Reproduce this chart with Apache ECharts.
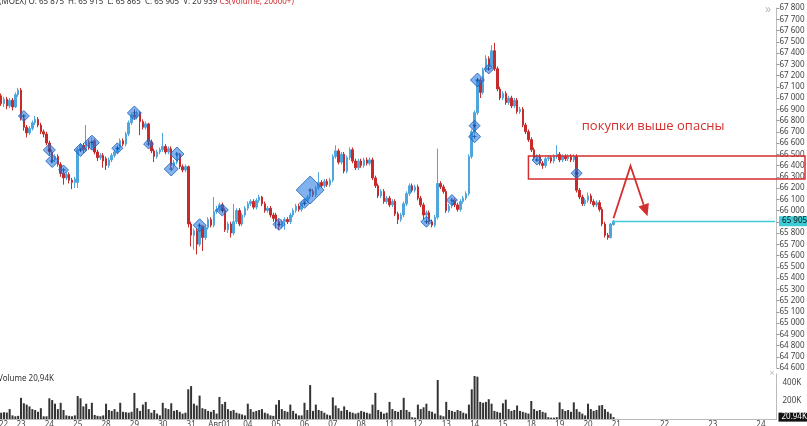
<!DOCTYPE html>
<html><head><meta charset="utf-8">
<script src="https://cdn.jsdelivr.net/npm/echarts/dist/echarts.min.js"></script>
<style>html,body{margin:0;padding:0;background:#fff;overflow:hidden}#c{width:807px;height:426px}</style>
</head><body><div id="c"></div>
<script>
// ---------- DATA ----------
const dayLabels = ['Июля22','23','24','25','28','29','30','31','Авг01','04','05','06','07','08','11','12','13','14','15','18','19','20'];
const futureDayLabels = ['21','22','23','24'];
const candlesPerDay = 10;
const futureSlotsPerDay = 17;
const futureSlots = 57;

// [open, close, low, high] hourly candles
const candles = [
// 22
[67040,67000,66970,67070],[67000,67030,66980,67060],[67030,66990,66960,67050],[67020,66950,66930,67040],[66950,66990,66920,67010],
[66990,66930,66900,67010],[66930,66980,66910,67000],[66980,66920,66890,67000],[66920,67030,66910,67050],[67030,67070,67010,67090],
// 23
[67070,66820,66800,67090],[66820,66740,66710,66850],[66740,66690,66650,66760],[66690,66730,66670,66750],[66730,66780,66710,66800],
[66780,66810,66760,66840],[66810,66760,66740,66830],[66760,66700,66680,66780],[66700,66680,66650,66720],[66680,66600,66580,66700],
// 24
[66600,66520,66490,66620],[66520,66450,66420,66540],[66450,66480,66430,66500],[66480,66410,66390,66500],[66410,66330,66300,66430],
[66330,66290,66230,66350],[66290,66320,66270,66340],[66320,66270,66240,66340],[66270,66250,66190,66290],[66250,66280,66200,66300],
// 25
[66250,66540,66200,66560],[66540,66580,66520,66600],[66580,66540,66510,66600],[66540,66610,66520,66760],[66610,66560,66540,66630],
[66560,66620,66540,66650],[66620,66520,66500,66640],[66520,66470,66440,66540],[66470,66490,66450,66510],[66490,66440,66380,66510],
// 28
[66460,66400,66360,66480],[66400,66450,66380,66470],[66450,66490,66430,66510],[66490,66520,66470,66540],[66520,66560,66500,66580],
[66560,66620,66540,66640],[66620,66590,66570,66640],[66590,66680,66570,66700],[66680,66780,66660,66800],[66780,66850,66760,66870],
// 29
[66850,66830,66810,66900],[66830,66870,66810,66890],[66870,66790,66670,66880],[66790,66740,66720,66810],[66740,66770,66720,66790],
[66770,66610,66590,66780],[66610,66530,66510,66630],[66530,66480,66430,66550],[66480,66520,66460,66540],[66520,66540,66500,66560],
// 30
[66540,66570,66520,66690],[66570,66520,66500,66590],[66520,66550,66500,66570],[66550,66400,66380,66570],[66400,66430,66380,66450],
[66430,66500,66410,66520],[66500,66390,66370,66510],[66390,66360,66340,66410],[66360,66390,66340,66410],[66390,65880,65850,66400],
// 31
[65880,65780,65680,65900],[65780,65820,65650,65840],[65820,65700,65610,65840],[65700,65860,65680,65880],[65860,65760,65640,65870],
[65760,65850,65740,65870],[65850,65920,65830,65940],[65920,65870,65850,65940],[65870,65990,65850,66120],[65990,66010,65970,66040],
// Авг01
[66010,66050,65990,66070],[66050,66000,65980,66070],[66000,65830,65810,66020],[65830,65880,65800,65900],[65880,65800,65760,65900],
[65800,65900,65780,66060],[65900,66000,65880,66020],[66000,65880,65860,66020],[65880,65960,65860,65980],[65960,66020,65940,66040],
// 04
[66020,66060,66000,66080],[66060,66080,66040,66100],[66080,66030,66010,66100],[66030,66090,66010,66110],[66090,66120,66070,66140],
[66120,66060,66040,66130],[66060,66000,65980,66080],[66000,66020,65980,66040],[66020,65960,65940,66040],[65960,65930,65900,65980],
// 05
[65960,65900,65840,65980],[65900,65860,65830,65920],[65860,65900,65840,65920],[65900,65920,65830,65940],[65920,65900,65880,65940],
[65900,65960,65880,65980],[65960,66000,65940,66020],[66000,66040,65980,66060],[66040,66010,65990,66060],[66010,66060,65990,66080],
// 06
[66060,66090,66040,66110],[66090,66120,66070,66140],[66120,66170,66100,66190],[66170,66140,66120,66190],[66140,66200,66120,66220],
[66200,66250,66180,66340],[66250,66220,66200,66270],[66220,66260,66200,66280],[66260,66230,66210,66280],[66230,66270,66210,66290],
// 07
[66270,66480,66250,66500],[66480,66530,66460,66580],[66530,66430,66410,66550],[66430,66500,66410,66520],[66500,66350,66330,66520],
[66350,66470,66330,66490],[66470,66540,66450,66560],[66540,66440,66420,66560],[66440,66380,66360,66460],[66380,66440,66360,66460],
// 08
[66440,66400,66380,66460],[66400,66450,66380,66470],[66450,66420,66400,66470],[66420,66450,66400,66470],[66450,66290,66270,66470],
[66290,66220,66200,66310],[66220,66130,66110,66240],[66130,66170,66110,66190],[66170,66080,66060,66190],[66080,66110,66060,66130],
// 11
[66110,66050,66030,66130],[66050,66080,66030,66100],[66080,65970,65950,66100],[65970,65920,65880,65990],[65920,65960,65900,65980],
[65960,66060,65940,66080],[66060,66150,66040,66170],[66150,66220,66130,66240],[66220,66180,66160,66240],[66180,66210,66160,66230],
// 12
[66210,66110,66090,66230],[66110,66050,66030,66130],[66050,65960,65920,66070],[65960,65980,65880,66000],[65980,65900,65880,66000],
[65900,65870,65850,65920],[65870,65940,65850,65960],[65940,66240,65920,66550],[66240,66210,66190,66260],[66210,66170,66150,66230],
// 13
[66170,66000,65980,66190],[66000,66040,65980,66060],[66040,66090,66020,66110],[66090,66050,66030,66110],[66050,66010,65990,66070],
[66010,66080,65990,66100],[66080,66110,66060,66130],[66110,66150,66090,66170],[66150,66480,66130,66500],[66480,66700,66460,66720],
// 14
[66700,66870,66680,66890],[66870,67160,66850,67180],[67160,67050,67000,67180],[67050,67250,67030,67270],[67250,67350,67230,67380],
[67350,67280,67250,67370],[67280,67420,67260,67470],[67420,67260,67240,67490],[67260,67080,67060,67280],[67080,67000,66980,67100],
// 15
[67000,67040,66980,67060],[67040,66960,66940,67060],[66960,67000,66940,67020],[67000,66930,66910,67020],[66930,66980,66910,67000],
[66980,66880,66860,67000],[66880,66900,66860,66920],[66900,66760,66740,66920],[66760,66700,66680,66780],[66700,66630,66610,66720],
// 18
[66630,66540,66520,66650],[66540,66470,66450,66560],[66470,66480,66440,66500],[66480,66420,66400,66500],[66420,66400,66370,66440],
[66400,66460,66380,66480],[66460,66470,66440,66490],[66470,66440,66420,66490],[66440,66480,66420,66500],[66480,66500,66460,66580],
// 19
[66500,66450,66430,66520],[66450,66480,66430,66500],[66480,66460,66440,66500],[66460,66480,66440,66500],[66480,66450,66430,66500],
[66450,66480,66430,66500],[66480,66180,66160,66500],[66180,66120,66100,66200],[66120,66060,66040,66140],[66060,66090,66040,66110],
// 20
[66090,66130,66070,66160],[66130,66080,66060,66150],[66080,66050,66030,66100],[66050,66070,66030,66090],[66070,66010,65990,66090],
[66010,65880,65860,66030],[65880,65780,65760,65900],[65780,65760,65740,65800],[65760,65880,65750,65890],[65875,65905,65865,65915]
];

// volume, thousands
const volumes = [
60,70,55,70,75,72,110,40,30,35,
235,175,160,140,110,100,80,120,30,30,
230,210,170,110,180,100,40,35,30,40,
255,230,140,170,110,180,45,35,30,40,
170,100,90,110,80,180,80,75,70,80,
290,120,90,160,190,110,70,100,60,40,
180,120,110,175,90,100,80,60,70,330,
366,170,150,260,120,110,90,80,100,60,
245,165,190,110,90,100,70,60,50,40,
170,110,80,90,100,110,70,60,40,35,
160,210,110,90,80,160,90,60,40,40,
180,100,377,90,160,100,90,70,50,40,
240,150,120,90,140,100,80,70,60,70,
90,80,70,60,160,290,100,80,60,70,
190,110,90,80,100,235,100,80,20,15,
160,110,130,170,90,80,60,433,40,30,
190,100,90,80,100,90,70,60,160,330,
478,470,190,180,190,220,170,90,80,70,
175,215,110,90,100,150,90,80,70,60,
200,110,90,100,80,70,20,15,15,20,
185,110,90,100,80,185,110,80,60,40,
170,110,90,100,150,155,110,80,60,20.94
];
const lastVolumeExact = 20939;

// volume clusters: [candle index, price, cluster volume (K)]
const clusters = [
[11,66840,40],[20,66538,47],[21,66440,53],[25,66360,33],[31,66538,53],[35,66603,67],[44,66553,40],
[50,66867,60],[55,66591,33],[63,66369,60],[65,66502,60],[73,65869,53],[81,66004,47],[101,65877,47],
[110,66064,33],[112,66182,153],[153,65900,40],[162,66093,40],[170,66754,40],[170,66656,47],
[171,67160,60],[175,67258,33],[192,66449,33],[206,66331,40]
];

// annotations (data space)
const zoneTop = 66485, zoneBottom = 66280, zoneStart = 189;
const arrowPath = [[219,65931],[225,66396],[231,65950]];
const noteText = 'покупки выше опасны';
const notePos = [233,66751];

const priceMin = 64600, priceMax = 67800, priceStep = 100;
const volMax = 500, volStep = 200;

// ---------- BUILD ----------
const cats = [], labelMap = {};
dayLabels.forEach((d, di) => {
  for (let k = 0; k < candlesPerDay; k++) { const id = 'c' + cats.length; cats.push(id); if (k === 0) labelMap[id] = d; }
});
const dataCount = cats.length;
for (let k = 0; k < futureSlots; k++) { const id = 'c' + cats.length; cats.push(id); if (k % futureSlotsPerDay === 0) labelMap[id] = futureDayLabels[k / futureSlotsPerDay]; }
const fmtNum = v => String(v).replace(/\B(?=(\d{3})+(?!\d))/g, ' ');
const last = candles[candles.length - 1];

const UP = '#4ea6dc', DOWN = '#c62a2a', RED = '#d32f2f', CYAN = '#3fcbd5';
const gridL = -8.77, gridR = 30.5;

const chart = echarts.init(document.getElementById('c'), null, {renderer: 'canvas'});
chart.setOption({
  animation: false,
  backgroundColor: '#fff',
  textStyle: {fontFamily: 'Noto Sans'},
  title: [
    {left: -1, top: -2, padding: 0, textStyle: {fontSize: 8, fontWeight: 'normal', color: '#333', rich: {
        a: {fontSize: 8, color: '#333'}, b: {fontSize: 8, color: '#d32f2f'}}},
     text: '{a|(MOEX) O: ' + fmtNum(last[0]) + '  H: ' + fmtNum(last[3]) + '  L: ' + fmtNum(last[2]) + '  C: ' + fmtNum(last[1]) + '  V: ' + fmtNum(lastVolumeExact) + ' }{b|CS(Volume, 20000+)}'},
    {left: -2, top: 375, padding: 0, textStyle: {fontSize: 8, fontWeight: 'normal', color: '#333'},
     text: 'Volume ' + String(volumes[volumes.length - 1]).replace('.', ',') + 'K'}
  ],
  grid: [
    {left: gridL, right: gridR, top: 8, height: 360, outerBoundsMode: 'none'},
    {left: gridL, right: gridR, top: 374, height: 45, outerBoundsMode: 'none'}
  ],
  xAxis: [
    {type: 'category', gridIndex: 0, data: cats, boundaryGap: true, axisLine: {show: false}, axisTick: {show: false}, axisLabel: {show: false}, splitLine: {show: false}},
    {type: 'category', gridIndex: 1, data: cats, boundaryGap: true,
     axisLine: {show: true, lineStyle: {color: '#bbb'}}, axisTick: {show: false},
     axisLabel: {show: true, fontSize: 8, color: '#444', margin: 2,
       interval: (i, v) => labelMap[v] !== undefined, formatter: v => labelMap[v] || ''},
     splitLine: {show: false}}
  ],
  yAxis: [
    {type: 'value', gridIndex: 0, position: 'right', min: priceMin, max: priceMax, interval: priceStep,
     axisLine: {show: true, lineStyle: {color: '#bbb'}}, axisTick: {show: true, length: 3, lineStyle: {color: '#999'}},
     axisLabel: {fontSize: 8, color: '#444', margin: 3, formatter: v => fmtNum(v)}, splitLine: {show: false}},
    {type: 'value', gridIndex: 1, position: 'right', min: 0, max: volMax, interval: volStep,
     axisLine: {show: true, lineStyle: {color: '#bbb'}}, axisTick: {show: false},
     axisLabel: {fontSize: 8, color: '#444', margin: 6, formatter: v => (v === 200 || v === 400) ? v + 'K' : ''}, splitLine: {show: false}}
  ],
  series: [
    {type: 'candlestick', xAxisIndex: 0, yAxisIndex: 0, data: candles, barWidth: 2,
     itemStyle: {color: UP, color0: DOWN, borderColor: UP, borderColor0: DOWN, borderWidth: 1},
     markLine: {silent: true, symbol: ['none', 'none'], animation: false,
       lineStyle: {color: CYAN, width: 1.3, type: 'solid', opacity: 1},
       emphasis: {disabled: true},
       label: {show: true, position: 'end', distance: 4, formatter: fmtNum(last[1]), fontSize: 8, color: '#111',
               backgroundColor: CYAN, padding: [1, 4, 1, 3]},
       data: [[{coord: [dataCount - 1, last[1]], lineStyle: {color: CYAN}}, {coord: [cats.length - 1, last[1]]}]]}
    },
    {type: 'bar', xAxisIndex: 1, yAxisIndex: 1, data: volumes, barWidth: 2, itemStyle: {color: '#333'},
     markLine: {silent: true, symbol: ['none', 'none'], animation: false,
       lineStyle: {color: 'rgba(0,0,0,0)', width: 1},
       label: {show: true, position: 'end', distance: 2, formatter: '20.94K', fontSize: 8, color: '#fff',
               backgroundColor: '#111', padding: [1, 3, 0, 3]},
       data: [{yAxis: volumes[volumes.length - 1]}]}
    },
    {type: 'scatter', xAxisIndex: 0, yAxisIndex: 0, symbol: 'diamond', data: clusters,
     symbolSize: d => 5 + d[2] * 0.15, z: 5,
     itemStyle: {color: 'rgba(36,122,226,0.72)', borderColor: '#1b5fb8', borderWidth: 1}},
    {type: 'scatter', xAxisIndex: 0, yAxisIndex: 0, symbol: 'path://M2,0H3V2H5V3H3V5H2V3H0V2H2Z', symbolSize: 4, z: 6,
     data: clusters.map(c => [c[0], c[1]]), itemStyle: {color: '#0d3f8a'}}
  ]
});

// annotations through the chart's own coordinate conversion
const px = (i, p) => chart.convertToPixel({xAxisIndex: 0, yAxisIndex: 0}, [i, p]);
const a = px(zoneStart, zoneTop), b = px(zoneStart, zoneBottom);
const pts = arrowPath.map(q => px(q[0], q[1]));
const tip = pts[2], prev = pts[1];
let dx = tip[0] - prev[0], dy = tip[1] - prev[1]; const L = Math.hypot(dx, dy); dx /= L; dy /= L;
const headLen = 12, headW = 5.5;
const base = [tip[0] - dx * headLen, tip[1] - dy * headLen];
const np = px(notePos[0], notePos[1]);
chart.setOption({graphic: [
  {type: 'rect', silent: true, z: 100, shape: {x: a[0], y: a[1], width: 805 - a[0], height: b[1] - a[1]},
   style: {fill: 'none', stroke: RED, lineWidth: 1.5}},
  {type: 'polyline', silent: true, z: 100, shape: {points: [pts[0], pts[1], base]}, style: {stroke: RED, lineWidth: 1.8, fill: 'none'}},
  {type: 'polygon', silent: true, z: 100, shape: {points: [tip, [base[0] - dy * headW, base[1] + dx * headW], [base[0] + dy * headW, base[1] - dx * headW]]},
   style: {fill: RED}},
  {type: 'text', silent: true, z: 100, x: np[0], y: np[1],
   style: {text: noteText, fill: RED, font: '13px "Open Sans"', textAlign: 'center', textVerticalAlign: 'middle'}},
  {type: 'text', silent: true, z: 100, x: 768, y: 10, style: {text: '»', fill: '#bbb', font: '12px "Noto Sans"', textAlign: 'center', textVerticalAlign: 'middle'}},
  {type: 'text', silent: true, z: 100, x: 772, y: 373, style: {text: '×', fill: '#bbb', font: '9px "Noto Sans"', textAlign: 'center', textVerticalAlign: 'middle'}}
]});
</script>
</body></html>
